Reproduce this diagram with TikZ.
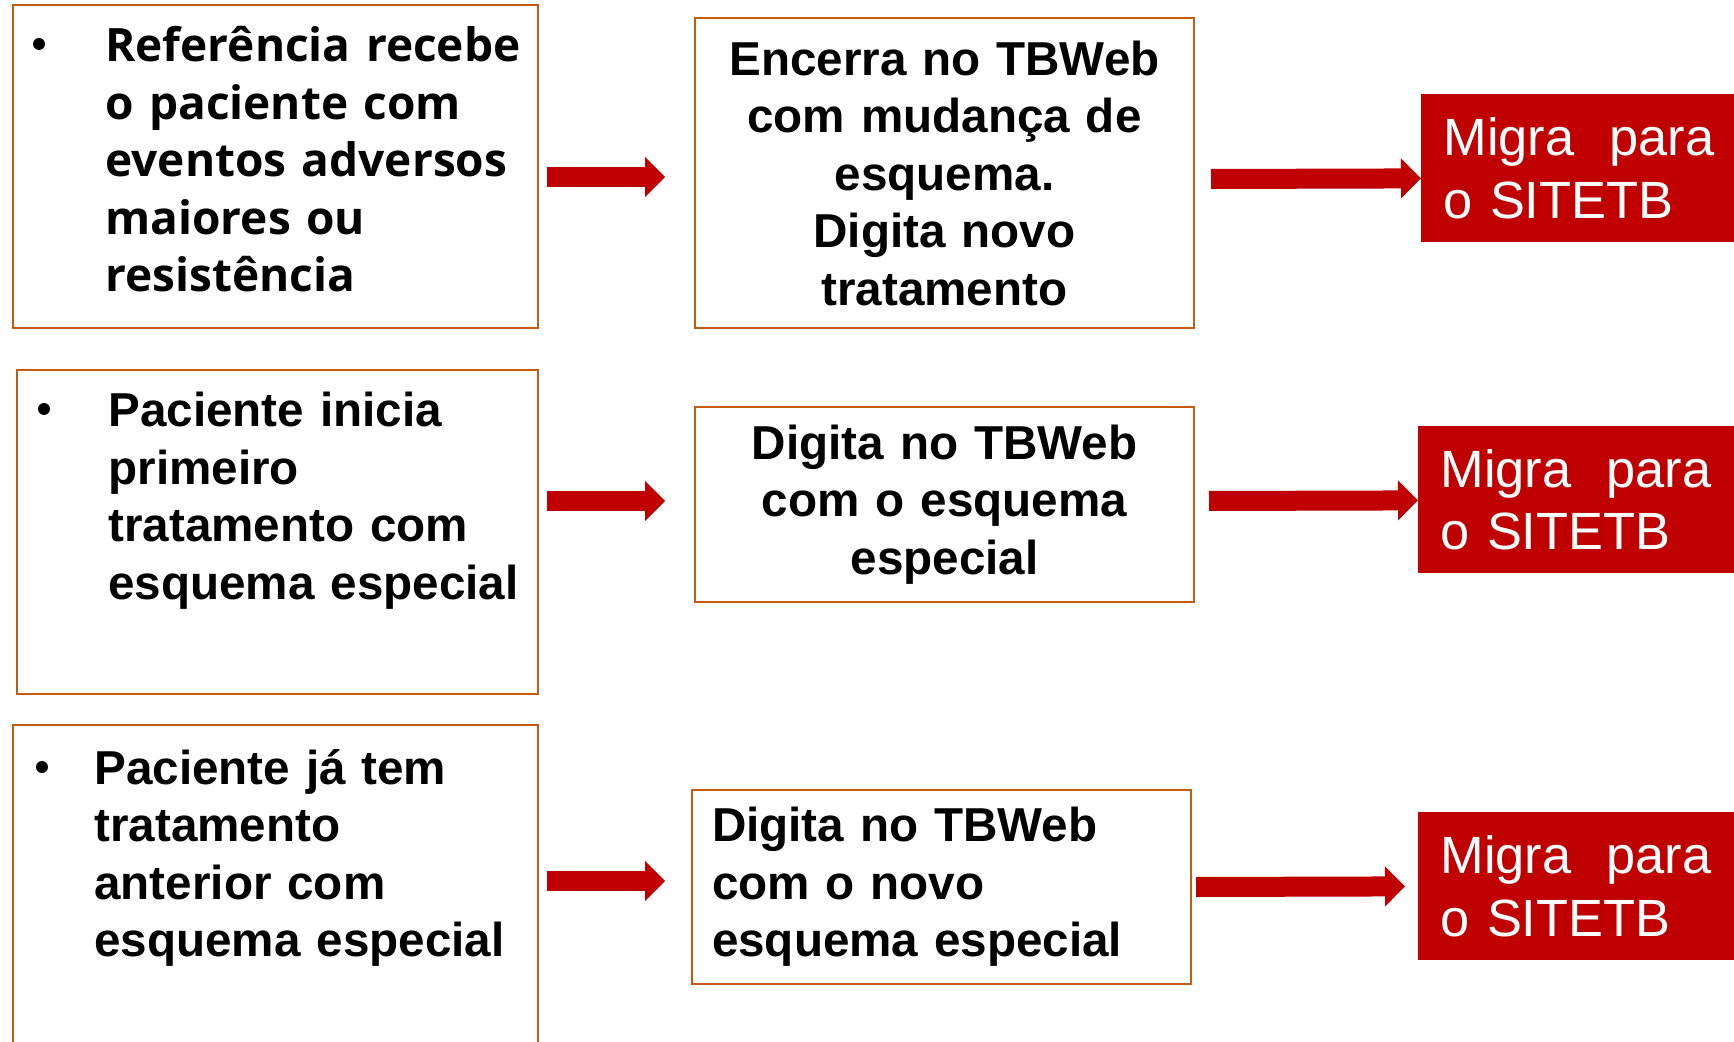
\documentclass[tikz,border=0pt]{standalone}
\usepackage{fontspec}
\setmainfont{Liberation Sans}
\newfontfamily\arial{Liberation Sans}
\newfontfamily\opensans{Open Sans}
\usetikzlibrary{calc,arrows.meta}

\definecolor{vermelho}{RGB}{192,0,0}
\definecolor{laranja}{RGB}{197,90,17}

\begin{document}
\begin{tikzpicture}[x=0.5pt,y=-0.5pt,
	quadro/.style={draw=laranja, line width=1pt, anchor=north west, inner sep=0pt},
	migra/.style={fill=vermelho, text=white, anchor=north west, inner ysep=0pt,
		inner xsep=11pt, text width=140pt, align=left,
		font=\arial\fontsize{26.2}{31.25}\selectfont},
	negrito/.style={font=\arial\bfseries\fontsize{23.8}{28.75}\selectfont},
	lista/.style={anchor=base west, inner sep=0pt, text width=235pt, align=left},
	bolinha/.style={circle, fill=black, inner sep=0pt, minimum size=6pt},
	seta/.style={draw=vermelho, line width=10pt,
		-{Triangle[length=10pt,width=20pt,line width=0pt]}}]

	% ---- page

	\clip (0,0) rectangle (1734,1042);

	% ---- left frames

	\node[quadro, minimum width=262.5pt, minimum height=161.5pt] (ref1) at (12,4) {};
	\node[quadro, minimum width=260.5pt, minimum height=162pt] (pac1) at (16,369) {};
	\node[quadro, minimum width=262.5pt, minimum height=163pt] (pac2) at (12,724) {};

	% ---- bullets and texts

	\node[bolinha] (b1) at (39,44) {};
	\node[bolinha] (b2) at (44,409) {};
	\node[bolinha] (b3) at (42,767) {};

	\node[lista, font=\opensans\bfseries\fontsize{23}{28.75}\selectfont] (tref1) at (105,62)
		{Referência recebe\\o paciente com\\eventos adversos\\maiores ou\\resistência};
	\node[lista, negrito] (tpac1) at (108,427)
		{Paciente inicia\\primeiro\\tratamento com\\esquema especial};
	\node[lista, negrito] (tpac2) at (94,784)
		{Paciente já tem\\tratamento\\anterior com\\esquema especial};

	% ---- middle frames

	\node[quadro, negrito, minimum width=249.5pt, minimum height=155pt,
		text width=229.5pt, align=center] (enc1) at (694,17)
		{Encerra no TBWeb\\com mudança de\\esquema.\\Digita novo\\tratamento};
	\node[quadro, negrito, minimum width=249.5pt, minimum height=97.5pt,
		text width=229.5pt, align=center] (dig1) at (694,406)
		{Digita no TBWeb\\com o esquema\\especial};
	\node[quadro, negrito, minimum width=249.5pt, minimum height=97pt,
		text width=229.5pt, align=left] (dig2) at (691,789)
		{Digita no TBWeb\\com o novo\\esquema especial};

	% ---- red frames

	\node[migra, minimum height=74pt] (mig1) at (1421,94) {Migra\ \ para\\o SITETB};
	\node[migra, minimum height=73.5pt] (mig2) at (1418,426) {Migra\ \ para\\o SITETB};
	\node[migra, minimum height=74pt] (mig3) at (1418,812) {Migra\ \ para\\o SITETB};

	% ---- arrows

	\draw[seta] ($(ref1.east)+(8,10.5)$) -- ($(enc1.west)+(-29,4)$);
	\draw[seta] ($(enc1.east)+(16,6)$) -- ($(mig1.west)+(0,10)$);

	\draw[seta] ($(pac1.east)+(8,-31)$) -- ($(dig1.west)+(-29,-3.5)$);
	\draw[seta] ($(dig1.east)+(14,-3.5)$) -- ($(mig2.west)+(0,0.5)$);

	\draw[seta] ($(pac2.east)+(8,-7)$) -- ($(dig2.west)+(-26,-6)$);
	\draw[seta] ($(dig2.east)+(4,0)$) -- ($(mig3.west)+(-13,0)$);

\end{tikzpicture}
\end{document}
